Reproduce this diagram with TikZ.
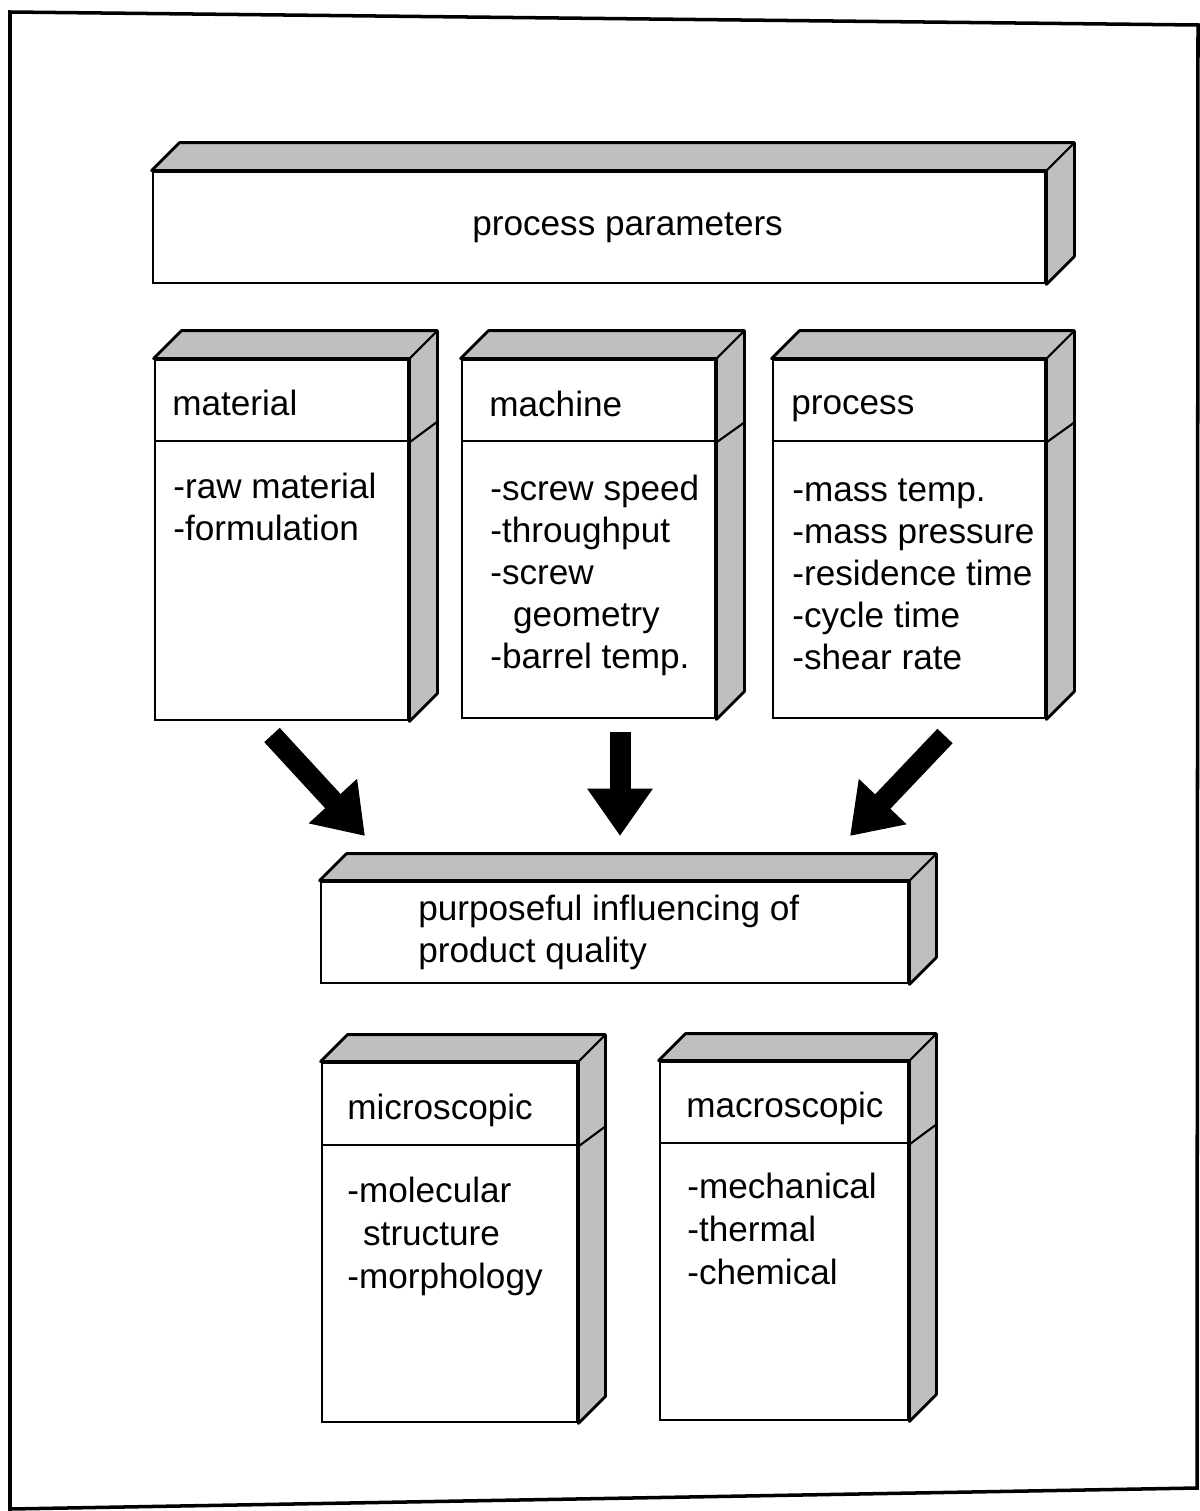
\documentclass[tikz,border=0pt]{standalone}
\usepackage{fontspec}
\setmainfont{Liberation Sans}
\usetikzlibrary{arrows.meta,calc,fit}

\tikzset{
  face/.style={draw, line width=1.6pt, fill=white, inner sep=0pt},
  sidefill/.style={draw, line width=1.6pt, fill=black!25, line join=round},
  boxline/.style={line width=1.2pt},
  txt/.style={font=\fontsize{20}{24}\selectfont, anchor=base west, inner sep=0pt},
  bigarrow/.style={line width=0.42cm, -{Triangle[length=0.95cm,width=1.25cm]}},
}

% top and right face of a box (top node, bottom node)
\newcommand{\boxslab}[3][28]{%
  \draw[sidefill] (#2.north west) -- ++(#1,-#1) -- ($(#2.north east)+(#1,-#1)$)
    -- ($(#3.south east)+(#1,-#1)$) -- (#3.south east) -- (#2.north east) -- cycle;
  \draw[boxline] (#2.north east) -- ++(#1,-#1);}

% list of lines, 42px apart
\newcommand{\itemlist}[5][42]{%
  \foreach \txt [count=\k] in {#5}
    \node[txt] (#2\k) at (#3,{#4+(\k-1)*#1}) {\txt};}

\begin{document}
\begin{tikzpicture}[x=0.02cm, y=-0.02cm]
  \useasboundingbox (0,0) rectangle (1200,1511);

  % frame
  \draw[line width=2pt] (10,12) -- (1198,25) -- (1197,1488) -- (10,1509) -- cycle;

  % process parameters
  \node[face, fit={(153,172) (1045,283)}] (params) {};
  \boxslab{params}{params}
  \node[txt] (paramsText) at (472,235) {process parameters};

  % material
  \node[face, fit={(155,360) (408,441)}] (matHead) {};
  \node[face, fit={(155,441) (408,720)}] (matBody) {};
  \boxslab{matHead}{matBody}
  \draw[boxline] (matHead.south east) -- ++(27,-20);
  \node[txt] (matText) at (172,415) {material};
  \itemlist{mat}{173}{498}{-raw material, -formulation}

  % machine
  \node[face, fit={(462,360) (715,441)}] (machHead) {};
  \node[face, fit={(462,441) (715,718)}] (machBody) {};
  \boxslab{machHead}{machBody}
  \draw[boxline] (machHead.south east) -- ++(28,-20);
  \node[txt] (machText) at (489,416) {machine};
  \itemlist{mach}{490}{500}{-screw speed, -throughput, -screw, \hspace*{13pt}geometry, -barrel temp.}

  % process
  \node[face, fit={(773,360) (1045,441)}] (procHead) {};
  \node[face, fit={(773,441) (1045,718)}] (procBody) {};
  \boxslab{procHead}{procBody}
  \draw[boxline] (procHead.south east) -- ++(28,-20);
  \node[txt] (procText) at (791,414) {process};
  \itemlist{proc}{792}{501}{-mass temp., -mass pressure, -residence time, -cycle time, -shear rate}

  % arrows
  \coordinate (matOut) at (272,735);
  \coordinate (machOut) at (620,732);
  \coordinate (procOut) at (945,736);
  \coordinate (matIn) at (365,836);
  \coordinate (machIn) at (620,836);
  \coordinate (procIn) at (850,836);
  \draw[bigarrow] (matOut) -- (matIn);
  \draw[bigarrow] (machOut) -- (machIn);
  \draw[bigarrow] (procOut) -- (procIn);

  % product quality
  \node[face, fit={(321,882) (908,983)}] (quality) {};
  \boxslab[27]{quality}{quality}
  \itemlist{quality}{418}{920}{purposeful influencing of, product quality}

  % microscopic
  \node[face, fit={(322,1063) (577,1145)}] (microHead) {};
  \node[face, fit={(322,1145) (577,1422)}] (microBody) {};
  \boxslab[27]{microHead}{microBody}
  \draw[boxline] (microHead.south east) -- ++(27,-20);
  \node[txt] (microText) at (347,1119) {microscopic};
  \itemlist[43]{micro}{347}{1202}{-molecular, \hspace*{9pt}structure, -morphology}

  % macroscopic
  \node[face, fit={(660,1062) (908,1143)}] (macroHead) {};
  \node[face, fit={(660,1143) (908,1420)}] (macroBody) {};
  \boxslab[27]{macroHead}{macroBody}
  \draw[boxline] (macroHead.south east) -- ++(27,-20);
  \node[txt] (macroText) at (686,1117) {macroscopic};
  \itemlist[43]{macro}{687}{1198}{-mechanical, -thermal, -chemical}
\end{tikzpicture}
\end{document}
